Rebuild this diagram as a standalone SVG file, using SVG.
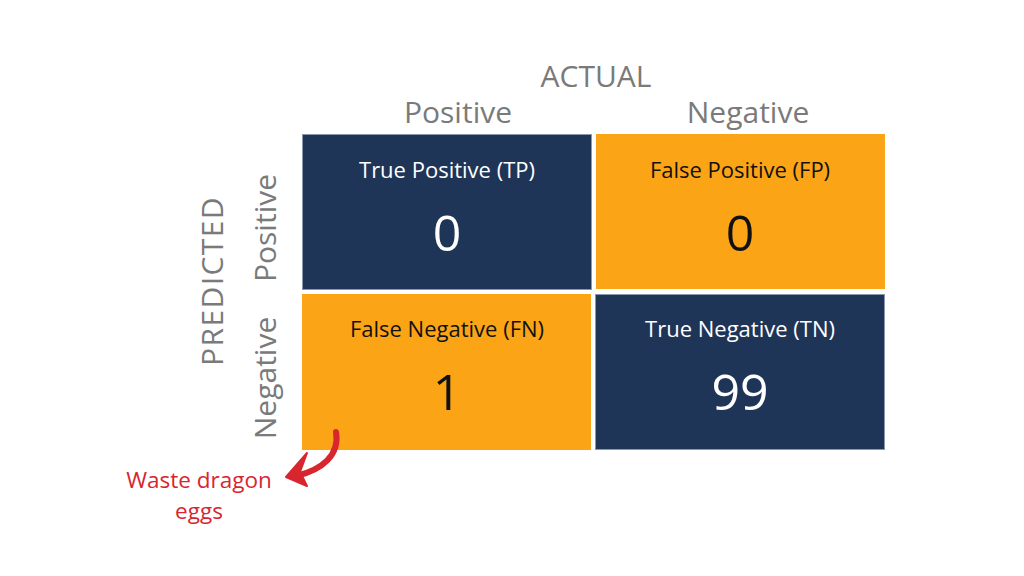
<svg xmlns="http://www.w3.org/2000/svg" width="1024" height="576" viewBox="0 0 1024 576">
<style>
.hdr{font-family:"Open Sans","Noto Sans",sans-serif;font-size:30px;fill:#7a7a7a;text-anchor:middle}
.ttl{font-family:"Open Sans","Noto Sans",sans-serif;font-size:22px;text-anchor:middle}
.num{font-family:"Open Sans","Noto Sans",sans-serif;font-size:50px;text-anchor:middle}
.dark{fill:#1f3557;stroke:#8a98ad;stroke-width:1}
.orange{fill:#fba416}
.w{fill:#ffffff}
.b{fill:#111111}
.red{font-family:"Open Sans","Noto Sans",sans-serif;font-size:22.5px;fill:#d8262f;text-anchor:middle}
</style>
<rect width="1024" height="576" fill="#ffffff"/>
<g id="headers">
<text class="hdr" x="596" y="87">ACTUAL</text>
<text class="hdr" x="458" y="123">Positive</text>
<text class="hdr" x="748" y="123">Negative</text>
<text class="hdr" style="letter-spacing:1.4px" transform="translate(223,281) rotate(-90)">PREDICTED</text>
<text class="hdr" transform="translate(276,228) rotate(-90)">Positive</text>
<text class="hdr" transform="translate(276,378) rotate(-90)">Negative</text>
</g>
<g id="tp">
<rect class="dark" x="302.5" y="134.5" width="289" height="155"/>
<text class="ttl w" x="447" y="178">True Positive (TP)</text>
<text class="num w" x="447" y="251">0</text>
</g>
<g id="fp">
<rect class="orange" x="596" y="134" width="289" height="155"/>
<text class="ttl b" x="740" y="178">False Positive (FP)</text>
<text class="num b" x="740" y="251">0</text>
</g>
<g id="fn">
<rect class="orange" x="302" y="294" width="289" height="156"/>
<text class="ttl b" x="447" y="337">False Negative (FN)</text>
<text class="num b" x="447" y="410">1</text>
</g>
<g id="tn">
<rect class="dark" x="595.5" y="294.5" width="289" height="155"/>
<text class="ttl w" x="740" y="337">True Negative (TN)</text>
<text class="num w" x="740" y="410">99</text>
</g>
<g id="connectors">
<path d="M336,432 C340,455 322,470 296,476" fill="none" stroke="#d8262f" stroke-width="6" stroke-linecap="round"/>
<path d="M286,477 L307,453 L300,472 L307,486 Z" fill="#d8262f" stroke="#d8262f" stroke-width="2" stroke-linejoin="round"/>
</g>
<g id="note">
<text class="red" x="199" y="488">Waste dragon</text>
<text class="red" x="199" y="519">eggs</text>
</g>
</svg>
